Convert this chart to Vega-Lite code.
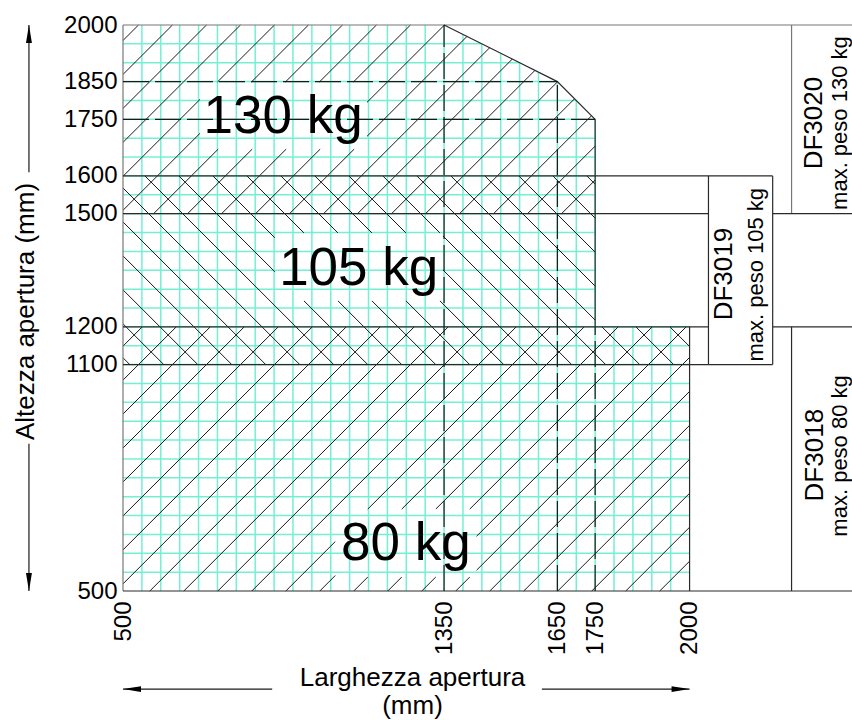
{
  "$schema": "https://vega.github.io/schema/vega-lite/v6.json",
  "width": 729,
  "height": 566,
  "autosize": {"type": "none"},
  "padding": {"left": 123, "top": 25, "right": 0, "bottom": 129},
  "background": "white",
  "config": {
    "view": {"stroke": null},
    "font": "Liberation Sans",
    "axis": {"labelFont": "Liberation Sans", "titleFont": "Liberation Sans"}
  },
  "datasets": {
    "grid": [
      {"x": 550, "y": 500, "x2": 550, "y2": 2000},
      {"x": 600, "y": 500, "x2": 600, "y2": 2000},
      {"x": 650, "y": 500, "x2": 650, "y2": 2000},
      {"x": 700, "y": 500, "x2": 700, "y2": 2000},
      {"x": 750, "y": 500, "x2": 750, "y2": 2000},
      {"x": 800, "y": 500, "x2": 800, "y2": 2000},
      {"x": 850, "y": 500, "x2": 850, "y2": 2000},
      {"x": 900, "y": 500, "x2": 900, "y2": 2000},
      {"x": 950, "y": 500, "x2": 950, "y2": 2000},
      {"x": 1000, "y": 500, "x2": 1000, "y2": 2000},
      {"x": 1050, "y": 500, "x2": 1050, "y2": 2000},
      {"x": 1100, "y": 500, "x2": 1100, "y2": 2000},
      {"x": 1150, "y": 500, "x2": 1150, "y2": 2000},
      {"x": 1200, "y": 500, "x2": 1200, "y2": 2000},
      {"x": 1250, "y": 500, "x2": 1250, "y2": 2000},
      {"x": 1300, "y": 500, "x2": 1300, "y2": 2000},
      {"x": 1350, "y": 500, "x2": 1350, "y2": 2000},
      {"x": 1400, "y": 500, "x2": 1400, "y2": 1975},
      {"x": 1450, "y": 500, "x2": 1450, "y2": 1950},
      {"x": 1500, "y": 500, "x2": 1500, "y2": 1925},
      {"x": 1550, "y": 500, "x2": 1550, "y2": 1900},
      {"x": 1600, "y": 500, "x2": 1600, "y2": 1875},
      {"x": 1650, "y": 500, "x2": 1650, "y2": 1850},
      {"x": 1700, "y": 500, "x2": 1700, "y2": 1800},
      {"x": 1750, "y": 500, "x2": 1750, "y2": 1750},
      {"x": 1800, "y": 500, "x2": 1800, "y2": 1200},
      {"x": 1850, "y": 500, "x2": 1850, "y2": 1200},
      {"x": 1900, "y": 500, "x2": 1900, "y2": 1200},
      {"x": 1950, "y": 500, "x2": 1950, "y2": 1200},
      {"x": 500, "y": 550, "x2": 2000, "y2": 550},
      {"x": 500, "y": 600, "x2": 2000, "y2": 600},
      {"x": 500, "y": 650, "x2": 2000, "y2": 650},
      {"x": 500, "y": 700, "x2": 2000, "y2": 700},
      {"x": 500, "y": 750, "x2": 2000, "y2": 750},
      {"x": 500, "y": 800, "x2": 2000, "y2": 800},
      {"x": 500, "y": 850, "x2": 2000, "y2": 850},
      {"x": 500, "y": 900, "x2": 2000, "y2": 900},
      {"x": 500, "y": 950, "x2": 2000, "y2": 950},
      {"x": 500, "y": 1000, "x2": 2000, "y2": 1000},
      {"x": 500, "y": 1050, "x2": 2000, "y2": 1050},
      {"x": 500, "y": 1100, "x2": 2000, "y2": 1100},
      {"x": 500, "y": 1150, "x2": 2000, "y2": 1150},
      {"x": 500, "y": 1200, "x2": 2000, "y2": 1200},
      {"x": 500, "y": 1250, "x2": 1750, "y2": 1250},
      {"x": 500, "y": 1300, "x2": 1750, "y2": 1300},
      {"x": 500, "y": 1350, "x2": 1750, "y2": 1350},
      {"x": 500, "y": 1400, "x2": 1750, "y2": 1400},
      {"x": 500, "y": 1450, "x2": 1750, "y2": 1450},
      {"x": 500, "y": 1500, "x2": 1750, "y2": 1500},
      {"x": 500, "y": 1550, "x2": 1750, "y2": 1550},
      {"x": 500, "y": 1600, "x2": 1750, "y2": 1600},
      {"x": 500, "y": 1650, "x2": 1750, "y2": 1650},
      {"x": 500, "y": 1700, "x2": 1750, "y2": 1700},
      {"x": 500, "y": 1750, "x2": 1750, "y2": 1750},
      {"x": 500, "y": 1800, "x2": 1700, "y2": 1800},
      {"x": 500, "y": 1850, "x2": 1650, "y2": 1850},
      {"x": 500, "y": 1900, "x2": 1550, "y2": 1900},
      {"x": 500, "y": 1950, "x2": 1450, "y2": 1950}
    ],
    "hatch": [
      {"s": 1, "x": 500, "y": 1149}, {"s": 1, "x": 551, "y": 1200},
      {"s": 2, "x": 500, "y": 1059}, {"s": 2, "x": 641, "y": 1200},
      {"s": 3, "x": 500, "y": 969}, {"s": 3, "x": 731, "y": 1200},
      {"s": 4, "x": 500, "y": 879}, {"s": 4, "x": 821, "y": 1200},
      {"s": 5, "x": 500, "y": 789}, {"s": 5, "x": 911, "y": 1200},
      {"s": 6, "x": 500, "y": 699}, {"s": 6, "x": 1001, "y": 1200},
      {"s": 7, "x": 500, "y": 609}, {"s": 7, "x": 1091, "y": 1200},
      {"s": 8, "x": 500, "y": 519}, {"s": 8, "x": 1181, "y": 1200},
      {"s": 9, "x": 571, "y": 500}, {"s": 9, "x": 1271, "y": 1200},
      {"s": 10, "x": 661, "y": 500}, {"s": 10, "x": 1361, "y": 1200},
      {"s": 11, "x": 751, "y": 500}, {"s": 11, "x": 1451, "y": 1200},
      {"s": 12, "x": 841, "y": 500}, {"s": 12, "x": 1541, "y": 1200},
      {"s": 13, "x": 931, "y": 500}, {"s": 13, "x": 1062, "y": 631},
      {"s": 14, "x": 1148, "y": 717}, {"s": 14, "x": 1631, "y": 1200},
      {"s": 15, "x": 1021, "y": 500}, {"s": 15, "x": 1062, "y": 541},
      {"s": 16, "x": 1238, "y": 717}, {"s": 16, "x": 1721, "y": 1200},
      {"s": 17, "x": 1111, "y": 500}, {"s": 17, "x": 1148, "y": 537},
      {"s": 18, "x": 1328, "y": 717}, {"s": 18, "x": 1811, "y": 1200},
      {"s": 19, "x": 1201, "y": 500}, {"s": 19, "x": 1238, "y": 537},
      {"s": 20, "x": 1418, "y": 717}, {"s": 20, "x": 1901, "y": 1200},
      {"s": 21, "x": 1291, "y": 500}, {"s": 21, "x": 1328, "y": 537},
      {"s": 22, "x": 1436, "y": 645}, {"s": 22, "x": 1991, "y": 1200},
      {"s": 23, "x": 1381, "y": 500}, {"s": 23, "x": 1418, "y": 537},
      {"s": 24, "x": 1436, "y": 555}, {"s": 24, "x": 2000, "y": 1119},
      {"s": 25, "x": 1471, "y": 500}, {"s": 25, "x": 2000, "y": 1029},
      {"s": 26, "x": 1561, "y": 500}, {"s": 26, "x": 2000, "y": 939},
      {"s": 27, "x": 1651, "y": 500}, {"s": 27, "x": 2000, "y": 849},
      {"s": 28, "x": 1741, "y": 500}, {"s": 28, "x": 2000, "y": 759},
      {"s": 29, "x": 1831, "y": 500}, {"s": 29, "x": 2000, "y": 669},
      {"s": 30, "x": 1921, "y": 500}, {"s": 30, "x": 2000, "y": 579},
      {"s": 31, "x": 500, "y": 1959}, {"s": 31, "x": 541, "y": 2000},
      {"s": 32, "x": 500, "y": 1869}, {"s": 32, "x": 631, "y": 2000},
      {"s": 33, "x": 500, "y": 1779}, {"s": 33, "x": 721, "y": 2000},
      {"s": 34, "x": 500, "y": 1689}, {"s": 34, "x": 811, "y": 2000},
      {"s": 35, "x": 500, "y": 1599}, {"s": 35, "x": 704, "y": 1803},
      {"s": 36, "x": 750, "y": 1849}, {"s": 36, "x": 901, "y": 2000},
      {"s": 37, "x": 500, "y": 1509}, {"s": 37, "x": 704, "y": 1713},
      {"s": 38, "x": 840, "y": 1849}, {"s": 38, "x": 991, "y": 2000},
      {"s": 39, "x": 581, "y": 1500}, {"s": 39, "x": 752, "y": 1671},
      {"s": 40, "x": 930, "y": 1849}, {"s": 40, "x": 1081, "y": 2000},
      {"s": 41, "x": 671, "y": 1500}, {"s": 41, "x": 842, "y": 1671},
      {"s": 42, "x": 1020, "y": 1849}, {"s": 42, "x": 1171, "y": 2000},
      {"s": 43, "x": 761, "y": 1500}, {"s": 43, "x": 932, "y": 1671},
      {"s": 44, "x": 1110, "y": 1849}, {"s": 44, "x": 1261, "y": 2000},
      {"s": 45, "x": 851, "y": 1500}, {"s": 45, "x": 1022, "y": 1671},
      {"s": 46, "x": 1146, "y": 1795}, {"s": 46, "x": 1351, "y": 2000},
      {"s": 47, "x": 941, "y": 1500}, {"s": 47, "x": 1112, "y": 1671},
      {"s": 48, "x": 1146, "y": 1705}, {"s": 48, "x": 1411, "y": 1970},
      {"s": 49, "x": 1031, "y": 1500}, {"s": 49, "x": 1471, "y": 1940},
      {"s": 50, "x": 1121, "y": 1500}, {"s": 50, "x": 1531, "y": 1910},
      {"s": 51, "x": 1211, "y": 1500}, {"s": 51, "x": 1591, "y": 1880},
      {"s": 52, "x": 1301, "y": 1500}, {"s": 52, "x": 1650.5, "y": 1849.5},
      {"s": 53, "x": 1391, "y": 1500}, {"s": 53, "x": 1695.5, "y": 1804.5},
      {"s": 54, "x": 1481, "y": 1500}, {"s": 54, "x": 1740.5, "y": 1759.5},
      {"s": 55, "x": 1571, "y": 1500}, {"s": 55, "x": 1750, "y": 1679},
      {"s": 56, "x": 1661, "y": 1500}, {"s": 56, "x": 1750, "y": 1589},
      {"s": 57, "x": 500, "y": 1118}, {"s": 57, "x": 518, "y": 1100},
      {"s": 58, "x": 500, "y": 1208}, {"s": 58, "x": 608, "y": 1100},
      {"s": 59, "x": 500, "y": 1298}, {"s": 59, "x": 698, "y": 1100},
      {"s": 60, "x": 500, "y": 1388}, {"s": 60, "x": 788, "y": 1100},
      {"s": 61, "x": 500, "y": 1478}, {"s": 61, "x": 878, "y": 1100},
      {"s": 62, "x": 500, "y": 1568}, {"s": 62, "x": 968, "y": 1100},
      {"s": 63, "x": 558, "y": 1600}, {"s": 63, "x": 1058, "y": 1100},
      {"s": 64, "x": 648, "y": 1600}, {"s": 64, "x": 902, "y": 1346},
      {"s": 65, "x": 979, "y": 1269}, {"s": 65, "x": 1148, "y": 1100},
      {"s": 66, "x": 738, "y": 1600}, {"s": 66, "x": 902, "y": 1436},
      {"s": 67, "x": 1069, "y": 1269}, {"s": 67, "x": 1238, "y": 1100},
      {"s": 68, "x": 828, "y": 1600}, {"s": 68, "x": 979, "y": 1449},
      {"s": 69, "x": 1159, "y": 1269}, {"s": 69, "x": 1328, "y": 1100},
      {"s": 70, "x": 918, "y": 1600}, {"s": 70, "x": 1069, "y": 1449},
      {"s": 71, "x": 1249, "y": 1269}, {"s": 71, "x": 1418, "y": 1100},
      {"s": 72, "x": 1008, "y": 1600}, {"s": 72, "x": 1159, "y": 1449},
      {"s": 73, "x": 1339, "y": 1269}, {"s": 73, "x": 1508, "y": 1100},
      {"s": 74, "x": 1098, "y": 1600}, {"s": 74, "x": 1249, "y": 1449},
      {"s": 75, "x": 1347, "y": 1351}, {"s": 75, "x": 1598, "y": 1100},
      {"s": 76, "x": 1188, "y": 1600}, {"s": 76, "x": 1339, "y": 1449},
      {"s": 77, "x": 1347, "y": 1441}, {"s": 77, "x": 1688, "y": 1100},
      {"s": 78, "x": 1278, "y": 1600}, {"s": 78, "x": 1778, "y": 1100},
      {"s": 79, "x": 1368, "y": 1600}, {"s": 79, "x": 1750, "y": 1218},
      {"s": 80, "x": 1768, "y": 1200}, {"s": 80, "x": 1868, "y": 1100},
      {"s": 81, "x": 1458, "y": 1600}, {"s": 81, "x": 1750, "y": 1308},
      {"s": 82, "x": 1858, "y": 1200}, {"s": 82, "x": 1958, "y": 1100},
      {"s": 83, "x": 1548, "y": 1600}, {"s": 83, "x": 1750, "y": 1398},
      {"s": 84, "x": 1948, "y": 1200}, {"s": 84, "x": 2000, "y": 1148},
      {"s": 85, "x": 1638, "y": 1600}, {"s": 85, "x": 1750, "y": 1488},
      {"s": 86, "x": 1728, "y": 1600}, {"s": 86, "x": 1750, "y": 1578}
    ],
    "frame": [
      {"x": 500, "y": 2000, "x2": 2430, "y2": 2000},
      {"x": 500, "y": 500, "x2": 500, "y2": 2000},
      {"x": 2270, "y": 1500, "x2": 2270, "y2": 2000}
    ],
    "outline": [
      {"s": 1, "x": 500, "y": 500}, {"s": 1, "x": 2430, "y": 500},
      {"s": 2, "x": 1350, "y": 2000}, {"s": 2, "x": 1650, "y": 1850}, {"s": 2, "x": 1750, "y": 1750},
      {"s": 3, "x": 2000, "y": 500}, {"s": 3, "x": 2000, "y": 1200},
      {"s": 4, "x": 500, "y": 1100}, {"s": 4, "x": 2050, "y": 1100},
      {"s": 5, "x": 500, "y": 1200}, {"s": 5, "x": 2050, "y": 1200},
      {"s": 6, "x": 2220, "y": 1200}, {"s": 6, "x": 2430, "y": 1200},
      {"s": 7, "x": 500, "y": 1500}, {"s": 7, "x": 2050, "y": 1500},
      {"s": 8, "x": 2220, "y": 1500}, {"s": 8, "x": 2430, "y": 1500},
      {"s": 9, "x": 500, "y": 1600}, {"s": 9, "x": 2220, "y": 1600},
      {"s": 10, "x": 2050, "y": 1100}, {"s": 10, "x": 2220, "y": 1100}
    ],
    "verticals": [
      {"x": 1750, "y": 1200, "x2": 1750, "y2": 1750},
      {"x": 2050, "y": 1100, "x2": 2050, "y2": 1600},
      {"x": 2220, "y": 1100, "x2": 2220, "y2": 1600},
      {"x": 2270, "y": 500, "x2": 2270, "y2": 1200}
    ],
    "dashed": [
      {"x": 500, "y": 1850, "x2": 1650, "y2": 1850},
      {"x": 500, "y": 1750, "x2": 1750, "y2": 1750},
      {"x": 1350, "y": 500, "x2": 1350, "y2": 2000},
      {"x": 1650, "y": 500, "x2": 1650, "y2": 1850},
      {"x": 1750, "y": 500, "x2": 1750, "y2": 1200}
    ],
    "shafts": [
      {"x": 251, "y": 2000, "x2": 251, "y2": 1610},
      {"x": 251, "y": 890, "x2": 251, "y2": 500},
      {"x": 500, "y": 240, "x2": 895, "y2": 240},
      {"x": 1609, "y": 240, "x2": 2000, "y2": 240}
    ],
    "heads": [
      {"x": 251, "y": 2000, "dir": "up"},
      {"x": 251, "y": 500, "dir": "down"},
      {"x": 500, "y": 240, "dir": "left"},
      {"x": 2000, "y": 240, "dir": "right"}
    ],
    "loads": [
      {"label": "130 kg", "x": 924, "y": 1714},
      {"label": "105 kg", "x": 1124, "y": 1311},
      {"label": "80 kg", "x": 1249, "y": 582}
    ],
    "codes": [
      {"label": "DF3020", "x": 2351, "y": 1740},
      {"label": "DF3019", "x": 2112, "y": 1340},
      {"label": "DF3018", "x": 2353, "y": 860}
    ],
    "weights": [
      {"label": "max. peso 130 kg", "x": 2416, "y": 1740},
      {"label": "max. peso 105 kg", "x": 2194, "y": 1338},
      {"label": "max. peso 80 kg", "x": 2416, "y": 858}
    ]
  },
  "encoding": {
    "x": {
      "field": "x",
      "type": "quantitative",
      "scale": {"domain": [500, 2430], "nice": false, "zero": false},
      "axis": {
        "values": [500, 1350, 1650, 1750, 2000],
        "format": "d",
        "domain": false,
        "ticks": false,
        "grid": false,
        "labelAngle": 270,
        "labelPadding": 10,
        "labelFontSize": 24,
        "labelColor": "black",
        "labelFlush": false,
        "labelOverlap": false,
        "title": ["Larghezza apertura", "(mm)"],
        "titleFontSize": 26,
        "titleFontWeight": "normal",
        "titleColor": "black",
        "titleAlign": "center",
        "titleBaseline": "alphabetic",
        "titleLineHeight": 28,
        "titleX": 289,
        "titleY": 94
      }
    },
    "y": {
      "field": "y",
      "type": "quantitative",
      "scale": {"domain": [500, 2000], "nice": false, "zero": false},
      "axis": {
        "values": [500, 1100, 1200, 1500, 1600, 1750, 1850, 2000],
        "format": "d",
        "domain": false,
        "ticks": false,
        "grid": false,
        "labelPadding": 6,
        "labelFontSize": 24,
        "labelColor": "black",
        "labelFlush": false,
        "labelOverlap": false,
        "title": "Altezza apertura (mm)",
        "titleFontSize": 26,
        "titleFontWeight": "normal",
        "titleColor": "black",
        "titleAngle": 270,
        "titleAlign": "center",
        "titleBaseline": "alphabetic",
        "titleX": -90,
        "titleY": 286
      }
    }
  },
  "layer": [
    {
      "data": {"name": "grid"},
      "mark": {"type": "rule", "color": "#73f0d4", "strokeWidth": 1.5},
      "encoding": {"x2": {"field": "x2"}, "y2": {"field": "y2"}}
    },
    {
      "data": {"name": "hatch"},
      "mark": {"type": "line", "color": "#1a1a1a", "strokeWidth": 1},
      "encoding": {"detail": {"field": "s", "type": "nominal"}}
    },
    {
      "data": {"name": "frame"},
      "mark": {"type": "rule", "color": "#777777", "strokeWidth": 1.2},
      "encoding": {"x2": {"field": "x2"}, "y2": {"field": "y2"}}
    },
    {
      "data": {"name": "outline"},
      "mark": {"type": "line", "color": "#2a2a2a", "strokeWidth": 1.2},
      "encoding": {"detail": {"field": "s", "type": "nominal"}}
    },
    {
      "data": {"name": "verticals"},
      "mark": {"type": "rule", "color": "#2a2a2a", "strokeWidth": 1.2},
      "encoding": {"x2": {"field": "x2"}, "y2": {"field": "y2"}}
    },
    {
      "data": {"name": "dashed"},
      "mark": {"type": "rule", "color": "#1a1a1a", "strokeWidth": 1.2, "strokeDash": [26, 6]},
      "encoding": {"x2": {"field": "x2"}, "y2": {"field": "y2"}}
    },
    {
      "data": {"name": "shafts"},
      "mark": {"type": "rule", "color": "#1a1a1a", "strokeWidth": 1.2},
      "encoding": {"x2": {"field": "x2"}, "y2": {"field": "y2"}}
    },
    {
      "data": {"name": "heads"},
      "mark": {"type": "point", "filled": true, "color": "black", "size": 324, "opacity": 1, "strokeWidth": 0},
      "encoding": {
        "shape": {
          "field": "dir",
          "type": "nominal",
          "scale": {
            "domain": ["up", "down", "left", "right"],
            "range": ["M0,0L-0.33,2L0.33,2Z", "M0,0L-0.33,-2L0.33,-2Z", "M0,0L2,-0.33L2,0.33Z", "M0,0L-2,-0.33L-2,0.33Z"]
          },
          "legend": null
        }
      }
    },
    {
      "data": {"name": "loads"},
      "mark": {"type": "text", "fontSize": 53, "align": "center", "baseline": "alphabetic", "color": "black", "font": "Liberation Sans"},
      "encoding": {"text": {"field": "label"}}
    },
    {
      "data": {"name": "codes"},
      "mark": {"type": "text", "fontSize": 26, "angle": 270, "align": "center", "baseline": "alphabetic", "color": "black", "font": "Liberation Sans"},
      "encoding": {"text": {"field": "label"}}
    },
    {
      "data": {"name": "weights"},
      "mark": {"type": "text", "fontSize": 22, "angle": 270, "align": "center", "baseline": "alphabetic", "color": "black", "font": "Liberation Sans"},
      "encoding": {"text": {"field": "label"}}
    }
  ]
}
